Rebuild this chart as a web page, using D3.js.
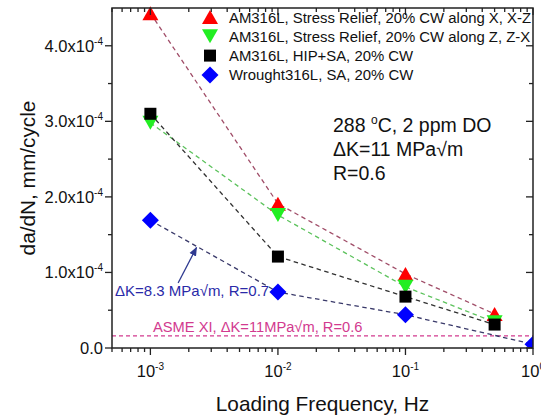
<!DOCTYPE html>
<html>
<head>
<meta charset="utf-8">
<script src="https://cdn.jsdelivr.net/npm/d3@7"></script>
<style>
  html, body { margin: 0; padding: 0; background: #fff; }
  svg { display: block; font-family: Arial, "Liberation Sans", sans-serif; }
</style>
</head>
<body>
<svg id="chart" width="541" height="417"></svg>
<script>
// Loading frequency (Hz) at which each material was tested
const frequencies = [1e-3, 1e-2, 1e-1, 5e-1];
const wroughtFrequencies = [1e-3, 1e-2, 1e-1, 1];

// Crack growth rate da/dN (mm/cycle)
const srAlongX = [4.43e-4, 1.91e-4, 0.98e-4, 0.45e-4];
const srAlongZ = [2.98e-4, 1.76e-4, 0.81e-4, 0.34e-4];
const hipSa = [3.10e-4, 1.21e-4, 0.68e-4, 0.31e-4];
const wroughtSa = [1.69e-4, 0.74e-4, 0.44e-4, 0.05e-4];

// ASME XI reference rate
const asmeRate = 0.16e-4;

const seriesNames = [
  "AM316L, Stress Relief, 20% CW along X, X-Z",
  "AM316L, Stress Relief, 20% CW along Z, Z-X",
  "AM316L, HIP+SA, 20% CW",
  "Wrought316L, SA, 20% CW"
];

const yTickValues = [0, 1e-4, 2e-4, 3e-4, 4e-4];
const yTickMantissas = ["0.0", "1.0", "2.0", "3.0", "4.0"];
const xTickValues = [1e-3, 1e-2, 1e-1, 1];
const xTickExponents = ["-3", "-2", "-1", "0"];

const W = 541, H = 417;
const plot = { left: 112, right: 533, top: 8, bottom: 348 };

const svg = d3.select("#chart");
svg.append("rect").attr("width", W).attr("height", H).attr("fill", "#fff");

const x = d3.scaleLog().domain([5e-4, 1]).range([plot.left, plot.right]);
const y = d3.scaleLinear().domain([0, 4.5e-4]).range([plot.bottom, plot.top]);

const series = [
  { name: seriesNames[0], freq: frequencies, vals: srAlongX, shape: "up", fill: "#ff0000", line: "#a04d68" },
  { name: seriesNames[1], freq: frequencies, vals: srAlongZ, shape: "down", fill: "#22ee22", line: "#5cc25c" },
  { name: seriesNames[2], freq: frequencies, vals: hipSa, shape: "square", fill: "#000000", line: "#303030" },
  { name: seriesNames[3], freq: wroughtFrequencies, vals: wroughtSa, shape: "diamond", fill: "#0000ff", line: "#3a3a6a" }
];

// symbol outlines centred on their bounding box
function symbolPath(shape) {
  switch (shape) {
    case "up": return "M0,-7L8,7L-8,7Z";
    case "down": return "M0,7L8,-7L-8,-7Z";
    case "square": return "M-6,-6H6V6H-6Z";
    case "diamond": return "M0,-8.5L8.5,0L0,8.5L-8.5,0Z";
  }
}

const defs = svg.append("defs");
defs.append("clipPath").attr("id", "plotClip")
  .append("rect")
  .attr("x", plot.left).attr("y", plot.top - 2)
  .attr("width", plot.right - plot.left).attr("height", plot.bottom - plot.top + 2);

defs.append("marker")
  .attr("id", "arrowHead").attr("viewBox", "0 0 10 10")
  .attr("refX", 9).attr("refY", 5)
  .attr("markerWidth", 7).attr("markerHeight", 7)
  .attr("orient", "auto")
  .append("path").attr("d", "M0,1L10,5L0,9Z").attr("fill", "#2f3a90");

const area = svg.append("g").attr("clip-path", "url(#plotClip)");

// ASME reference line
area.append("line")
  .attr("x1", plot.left).attr("x2", plot.right)
  .attr("y1", y(asmeRate)).attr("y2", y(asmeRate))
  .attr("stroke", "#d23a8f").attr("stroke-width", 1.2)
  .attr("stroke-dasharray", "4,3");

// dashed connectors
const lineGen = d3.line().x(d => x(d[0])).y(d => y(d[1]));
series.forEach(s => {
  area.append("path")
    .datum(s.freq.map((f, i) => [f, s.vals[i]]))
    .attr("d", lineGen)
    .attr("fill", "none")
    .attr("stroke", s.line)
    .attr("stroke-width", 1.3)
    .attr("stroke-dasharray", "4.5,3.5");
});

// symbols
series.forEach(s => {
  area.selectAll(null)
    .data(s.freq.map((f, i) => [f, s.vals[i]]))
    .join("path")
    .attr("d", symbolPath(s.shape))
    .attr("transform", d => `translate(${x(d[0])},${y(d[1])})`)
    .attr("fill", s.fill);
});

// frame
const axisColor = "#222";
svg.append("rect")
  .attr("x", plot.left).attr("y", plot.top)
  .attr("width", plot.right - plot.left).attr("height", plot.bottom - plot.top)
  .attr("fill", "none").attr("stroke", axisColor).attr("stroke-width", 1.5);

// y ticks: outward on the left, inward on the right
const yMinor = d3.range(0.5e-4, 4.5e-4, 1e-4);
const ticks = svg.append("g").attr("stroke", axisColor).attr("stroke-width", 1.3);
yTickValues.forEach(v => {
  ticks.append("line").attr("x1", plot.left - 7).attr("x2", plot.left).attr("y1", y(v)).attr("y2", y(v));
  ticks.append("line").attr("x1", plot.right - 7).attr("x2", plot.right).attr("y1", y(v)).attr("y2", y(v));
});
yMinor.forEach(v => {
  ticks.append("line").attr("x1", plot.left - 4).attr("x2", plot.left).attr("y1", y(v)).attr("y2", y(v));
  ticks.append("line").attr("x1", plot.right - 4).attr("x2", plot.right).attr("y1", y(v)).attr("y2", y(v));
});

// x ticks (log decades): outward at the bottom, inward at the top
const xMinor = [];
[-4, -3, -2, -1].forEach(d => {
  for (let m = 2; m <= 9; m++) {
    const v = m * Math.pow(10, d);
    if (v >= 5e-4 && v < 1) xMinor.push(v);
  }
});
xTickValues.forEach(v => {
  ticks.append("line").attr("x1", x(v)).attr("x2", x(v)).attr("y1", plot.bottom).attr("y2", plot.bottom + 7);
  ticks.append("line").attr("x1", x(v)).attr("x2", x(v)).attr("y1", plot.top).attr("y2", plot.top + 7);
});
xMinor.forEach(v => {
  ticks.append("line").attr("x1", x(v)).attr("x2", x(v)).attr("y1", plot.bottom).attr("y2", plot.bottom + 4);
  ticks.append("line").attr("x1", x(v)).attr("x2", x(v)).attr("y1", plot.top).attr("y2", plot.top + 4);
});

// y tick labels
yTickValues.forEach((v, i) => {
  const t = svg.append("text")
    .attr("x", plot.left - 9).attr("y", y(v) + 6)
    .attr("text-anchor", "end").attr("font-size", 16.5).attr("fill", "#111");
  if (v === 0) {
    t.text(yTickMantissas[i]);
  } else {
    t.append("tspan").text(yTickMantissas[i] + "x10");
    t.append("tspan").attr("font-size", 10).attr("dy", -7).text("-4");
  }
});

// x tick labels
xTickValues.forEach((v, i) => {
  const t = svg.append("text")
    .attr("x", x(v)).attr("y", 377)
    .attr("text-anchor", "middle").attr("font-size", 16.5).attr("fill", "#111");
  t.append("tspan").text("10");
  t.append("tspan").attr("font-size", 10).attr("dy", -7).text(xTickExponents[i]);
});

// axis titles
svg.append("text")
  .attr("x", (plot.left + plot.right) / 2).attr("y", 411)
  .attr("text-anchor", "middle").attr("font-size", 20.8).attr("fill", "#111")
  .text("Loading Frequency, Hz");
svg.append("text")
  .attr("transform", `translate(35,${(plot.top + plot.bottom) / 2}) rotate(-90)`)
  .attr("text-anchor", "middle").attr("font-size", 20.8).attr("fill", "#111")
  .text("da/dN, mm/cycle");

// legend
const legend = svg.append("g");
series.forEach((s, i) => {
  const ly = 17 + i * 19.3;
  legend.append("path").attr("d", symbolPath(s.shape))
    .attr("transform", `translate(210,${ly})`).attr("fill", s.fill);
  legend.append("text").attr("x", 229).attr("y", ly + 5.5)
    .attr("font-size", 14.9).attr("fill", "#111").text(s.name);
});

// test conditions
const cond = svg.append("g").attr("font-size", 19.5).attr("fill", "#111");
const c1 = cond.append("text").attr("x", 333).attr("y", 132);
c1.append("tspan").text("288 ");
c1.append("tspan").attr("font-size", 12).attr("dy", -8).text("o");
c1.append("tspan").attr("dy", 8).text("C, 2 ppm DO");
cond.append("text").attr("x", 333).attr("y", 156).text("\u0394K=11 MPa\u221Am");
cond.append("text").attr("x", 333).attr("y", 180).text("R=0.6");

// wrought-material note with arrow
svg.append("text").attr("x", 115).attr("y", 296)
  .attr("font-size", 15).attr("fill", "#2a2aa8")
  .text("\u0394K=8.3 MPa\u221Am, R=0.7");
svg.append("line")
  .attr("x1", x(1.65e-3)).attr("y1", y(0.86e-4))
  .attr("x2", x(2.3e-3)).attr("y2", y(1.33e-4))
  .attr("stroke", "#2f3a90").attr("stroke-width", 1.3)
  .attr("marker-end", "url(#arrowHead)");

// ASME note
svg.append("text").attr("x", 153).attr("y", 332)
  .attr("font-size", 14.7).attr("fill", "#d23a8f")
  .text("ASME XI, \u0394K=11MPa\u221Am, R=0.6");
</script>
</body>
</html>
